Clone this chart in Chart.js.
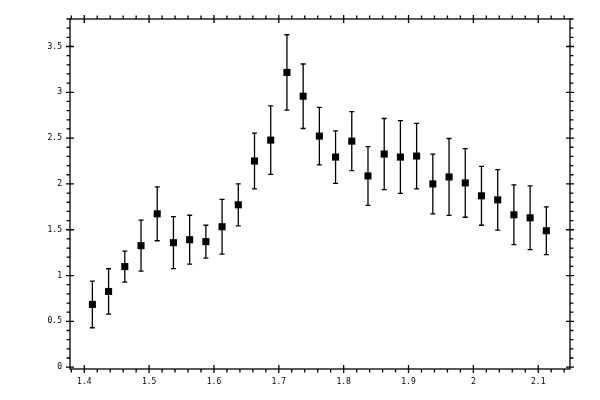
<!DOCTYPE html>
<html>
<head>
<meta charset="utf-8">
<script src="https://cdn.jsdelivr.net/npm/chart.js@4/dist/chart.umd.min.js"></script>
<style>
  body { margin: 0; background: #fff; }
  canvas { display: block; }
</style>
</head>
<body>
<canvas id="chart" width="600" height="400"></canvas>
<script>
const xVals = [1.4125, 1.4375, 1.4625, 1.4875, 1.5125, 1.5375, 1.5625, 1.5875, 1.6125, 1.6375,
  1.6625, 1.6875, 1.7125, 1.7375, 1.7625, 1.7875, 1.8125, 1.8375, 1.8625, 1.8875,
  1.9125, 1.9375, 1.9625, 1.9875, 2.0125, 2.0375, 2.0625, 2.0875, 2.1125];
const yVals = [0.685, 0.826, 1.098, 1.326, 1.674, 1.359, 1.391, 1.370, 1.533, 1.772,
  2.250, 2.478, 3.217, 2.957, 2.522, 2.293, 2.467, 2.087, 2.326, 2.293,
  2.304, 2.000, 2.076, 2.011, 1.870, 1.826, 1.663, 1.630, 1.489];
const yErr = [0.255, 0.248, 0.169, 0.278, 0.294, 0.283, 0.267, 0.179, 0.299, 0.229,
  0.304, 0.373, 0.411, 0.352, 0.314, 0.287, 0.321, 0.321, 0.388, 0.397,
  0.357, 0.326, 0.420, 0.375, 0.321, 0.330, 0.326, 0.348, 0.261];

const xRange = [1.378, 2.149];
const yRange = [-0.02, 3.8];
const xMajor = 0.1, xMinor = 0.02;
const yMajor = 0.5, yMinor = 0.1;

const fmt = (v) => String(+v.toFixed(3));

// vertical error bars with small caps, drawn under the markers
const errorBars = {
  id: 'errorBars',
  beforeDatasetsDraw(chart) {
    const { ctx, scales: { x, y } } = chart;
    const cap = 2.5;
    ctx.save();
    ctx.strokeStyle = '#000';
    ctx.lineWidth = 1.3;
    xVals.forEach((xv, i) => {
      const px = x.getPixelForValue(xv);
      const top = y.getPixelForValue(yVals[i] + yErr[i]);
      const bot = y.getPixelForValue(yVals[i] - yErr[i]);
      ctx.beginPath();
      ctx.moveTo(px, top); ctx.lineTo(px, bot);
      ctx.moveTo(px - cap, top); ctx.lineTo(px + cap, top);
      ctx.moveTo(px - cap, bot); ctx.lineTo(px + cap, bot);
      ctx.stroke();
    });
    ctx.restore();
  }
};

// box frame with major ticks crossing the axis and minor ticks outside, on all four sides
const frame = {
  id: 'frame',
  afterDraw(chart) {
    const { ctx, chartArea: a, scales: { x, y } } = chart;
    ctx.save();
    ctx.strokeStyle = '#000';
    ctx.lineWidth = 1.3;
    ctx.strokeRect(a.left, a.top, a.right - a.left, a.bottom - a.top);
    ctx.beginPath();
    const inLen = 4, outLen = 4, minLen = 3.5;

    const xTicks = (step, isMajor) => {
      for (let k = Math.ceil(xRange[0] / step - 1e-9); k * step <= xRange[1] + 1e-9; k++) {
        const px = x.getPixelForValue(k * step);
        const inn = isMajor ? inLen : 0;
        const out = isMajor ? outLen : minLen;
        ctx.moveTo(px, a.bottom - inn); ctx.lineTo(px, a.bottom + out);
        ctx.moveTo(px, a.top + inn); ctx.lineTo(px, a.top - out);
      }
    };
    const yTicks = (step, isMajor) => {
      for (let k = Math.ceil(yRange[0] / step - 1e-9); k * step <= yRange[1] + 1e-9; k++) {
        const py = y.getPixelForValue(k * step);
        const inn = isMajor ? inLen : 0;
        const out = isMajor ? outLen : minLen;
        ctx.moveTo(a.left + inn, py); ctx.lineTo(a.left - out, py);
        ctx.moveTo(a.right - inn, py); ctx.lineTo(a.right + out, py);
      }
    };
    xTicks(xMinor, false);
    xTicks(xMajor, true);
    yTicks(yMinor, false);
    yTicks(yMajor, true);
    ctx.stroke();
    ctx.restore();
  }
};

const ctx = document.getElementById('chart').getContext('2d');

new Chart(ctx, {
  type: 'scatter',
  data: {
    datasets: [{
      data: xVals.map((xv, i) => ({ x: xv, y: yVals[i] })),
      pointStyle: 'rect',
      pointRadius: 5,
      pointHoverRadius: 5,
      backgroundColor: '#000',
      borderColor: '#000',
      borderWidth: 0
    }]
  },
  options: {
    responsive: false,
    animation: false,
    devicePixelRatio: 1,
    layout: { padding: { top: 19, right: 30, left: 0, bottom: 0 } },
    plugins: {
      legend: { display: false },
      tooltip: { enabled: false }
    },
    scales: {
      x: {
        type: 'linear',
        min: xRange[0],
        max: xRange[1],
        grid: { display: false, drawTicks: false },
        border: { display: false },
        ticks: {
          stepSize: xMajor,
          includeBounds: false,
          padding: 8,
          maxRotation: 0,
          color: '#000',
          font: { family: 'DejaVu Sans Mono', size: 8 },
          callback: (v) => fmt(v)
        },
        afterFit: (s) => { s.height = 31; }
      },
      y: {
        type: 'linear',
        min: yRange[0],
        max: yRange[1],
        grid: { display: false, drawTicks: false },
        border: { display: false },
        ticks: {
          stepSize: yMajor,
          includeBounds: false,
          padding: 8,
          color: '#000',
          font: { family: 'DejaVu Sans Mono', size: 8 },
          callback: (v) => fmt(v)
        },
        afterFit: (s) => { s.width = 70; }
      }
    }
  },
  plugins: [errorBars, frame]
});
</script>
</body>
</html>
